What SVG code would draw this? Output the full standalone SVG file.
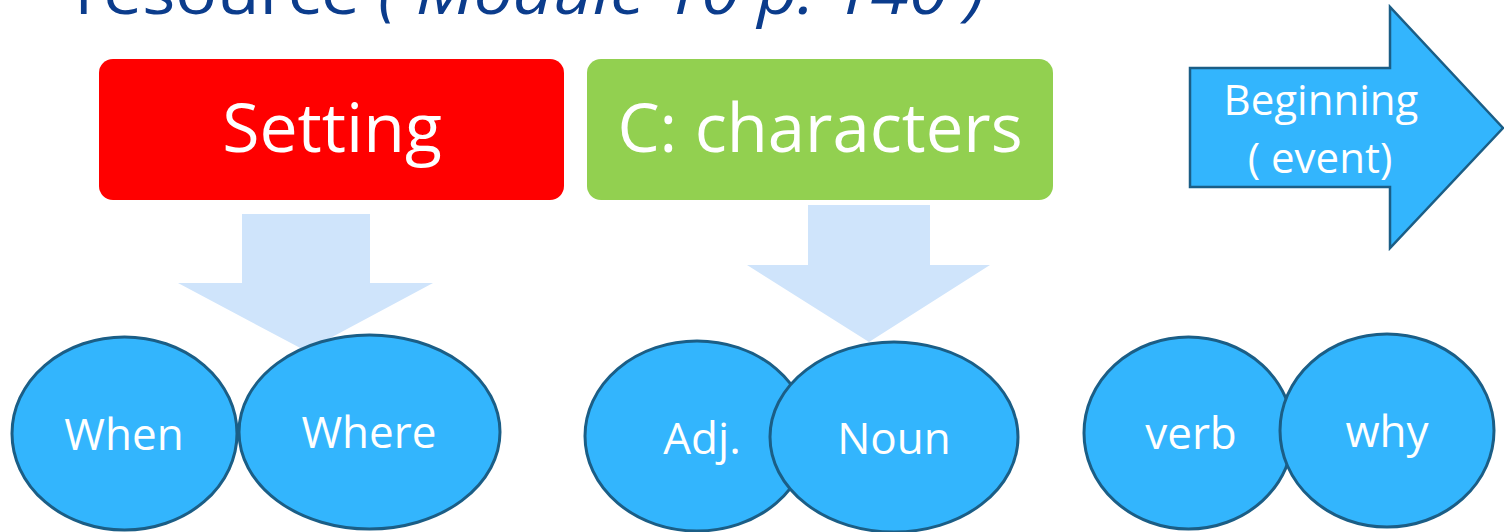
<svg xmlns="http://www.w3.org/2000/svg" width="1504" height="532" viewBox="0 0 1504 532">
<style>
.t{font-family:"Open Sans","Noto Sans","Liberation Sans",sans-serif;fill:#fff;text-anchor:middle}
.ell{fill:#33B5FD;stroke:#1B5E86;stroke-width:3}
.down{fill:#CFE4FB}
</style>
<rect width="1504" height="532" fill="#fff"/>
<g id="title">
<text x="75" y="14" font-family="Open Sans,Noto Sans,sans-serif" font-size="62" fill="#0B3C8C" textLength="910" lengthAdjust="spacingAndGlyphs">resource <tspan font-style="italic">( Module 10 p. 140 )</tspan></text>
</g>
<g id="connectors">
<polygon class="down" points="242,214 370,214 370,283 433,283 306,351 178,283 242,283"/>
<polygon class="down" points="808,205 930,205 930,265 990,265 869,342 747,265 808,265"/>
</g>
<g id="setting">
<rect x="99" y="59" width="465" height="141" rx="14" fill="#FF0000"/>
<text class="t" x="332" y="152" font-size="68">Setting</text>
</g>
<g id="characters">
<rect x="587" y="59" width="466" height="141" rx="14" fill="#92D050"/>
<text class="t" x="820" y="152" font-size="67">C: characters</text>
</g>
<g id="beginning">
<polygon points="1190,68 1390,68 1390,7 1503,128 1390,248 1390,187 1190,187" fill="#33B5FD" stroke="#1B5E86" stroke-width="2.5" stroke-linejoin="miter"/>
<text class="t" x="1321" y="115" font-size="42">Beginning</text>
<text class="t" x="1320" y="173" font-size="42">( event)</text>
</g>
<g id="when">
<ellipse class="ell" cx="124.5" cy="433.5" rx="112.5" ry="96.5"/>
<text class="t" x="124" y="450" font-size="44">When</text>
</g>
<g id="where">
<ellipse class="ell" cx="369.5" cy="432" rx="130.5" ry="97"/>
<text class="t" x="369" y="448" font-size="44">Where</text>
</g>
<g id="adj">
<ellipse class="ell" cx="697" cy="436" rx="112" ry="95"/>
<text class="t" x="702" y="454" font-size="44">Adj.</text>
</g>
<g id="noun">
<ellipse class="ell" cx="894" cy="437" rx="124" ry="95"/>
<text class="t" x="894" y="454" font-size="44">Noun</text>
</g>
<g id="verb">
<ellipse class="ell" cx="1188.5" cy="433" rx="104.5" ry="96"/>
<text class="t" x="1191" y="449" font-size="44">verb</text>
</g>
<g id="why">
<ellipse class="ell" cx="1387" cy="430.5" rx="107" ry="96.5"/>
<text class="t" x="1387" y="447" font-size="44">why</text>
</g>
</svg>
